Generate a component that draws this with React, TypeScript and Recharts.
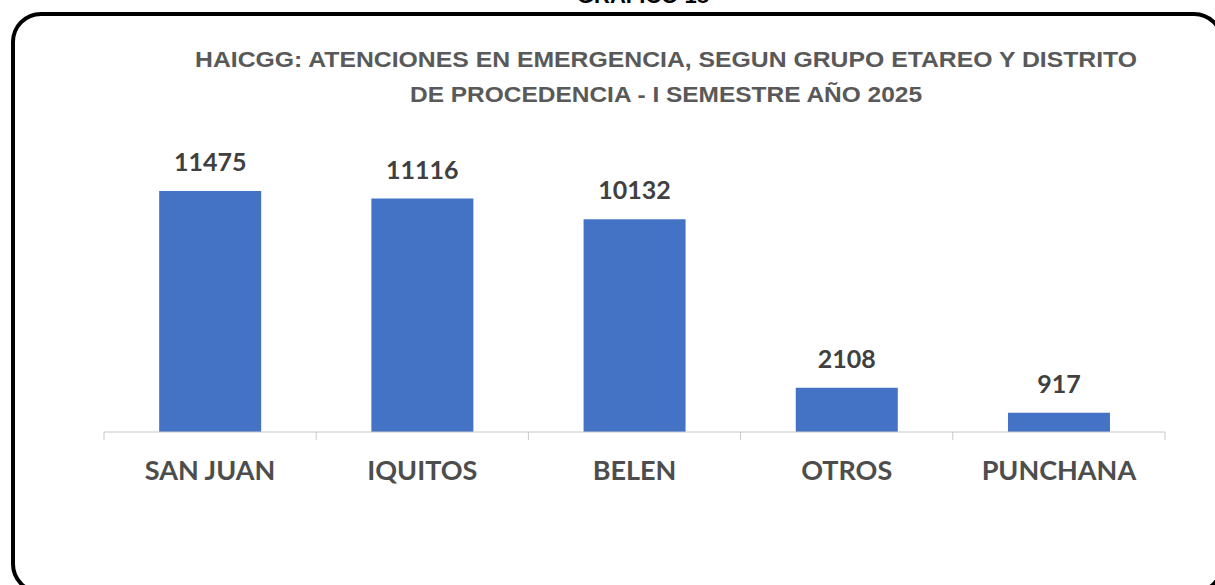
import React from "react";
import { BarChart, Bar, XAxis, YAxis, LabelList } from "recharts";

const distritos = ["SAN JUAN", "IQUITOS", "BELEN", "OTROS", "PUNCHANA"];
const atenciones = [11475, 11116, 10132, 2108, 917];

const data = distritos.map((name, i) => ({ name, value: atenciones[i] }));

const BAND = (1215 - 104 - 50) / distritos.length;

const CategoryTick = (props: any) => {
  const { x, y, payload, index } = props;
  const last = index === distritos.length - 1;
  return (
    <g>
      <line x1={x - BAND / 2} y1={y} x2={x - BAND / 2} y2={y + 8} stroke="#c8c8c8" />
      {last && <line x1={x + BAND / 2} y1={y} x2={x + BAND / 2} y2={y + 8} stroke="#c8c8c8" />}
      <text
        x={x}
        y={y + 48}
        textAnchor="middle"
        fontFamily="Lato"
        fontWeight="bold"
        fontSize={27}
        fill="#4d4d4d"
      >
        {payload.value}
      </text>
    </g>
  );
};

export default function App() {
  return (
    <div style={{ position: "absolute", left: 0, top: 0, width: 1215, height: 585, background: "#fff", overflow: "hidden" }}>
      <svg width={1215} height={585} style={{ position: "absolute", left: 0, top: 0 }}>
        <text x={643} y={3} textAnchor="middle" fontFamily="Liberation Sans" fontWeight="bold" fontSize={22} fill="#000">
          GRAFICO 18
        </text>
        <rect x={13} y={14} width={1209} height={578} rx={28} ry={28} fill="none" stroke="#000" strokeWidth={4} />
        <g fontFamily="Liberation Sans" fontWeight="bold" fontSize={21.5} fill="#595959" textAnchor="middle">
          <text x={666} y={67} textLength={942} lengthAdjust="spacingAndGlyphs">
            HAICGG: ATENCIONES EN  EMERGENCIA, SEGUN GRUPO ETAREO Y DISTRITO
          </text>
          <text x={666} y={102} textLength={512} lengthAdjust="spacingAndGlyphs">
            DE PROCEDENCIA - I SEMESTRE AÑO 2025
          </text>
        </g>
      </svg>
      <div style={{ position: "absolute", left: 0, top: 0 }}>
        <BarChart
          width={1215}
          height={585}
          data={data}
          margin={{ top: 159, right: 50, bottom: 93, left: 104 }}
          barCategoryGap="26%"
        >
          <XAxis
            dataKey="name"
            axisLine={{ stroke: "#c8c8c8" }}
            tickLine={false}
            tickSize={0}
            tickMargin={0}
            height={60}
            interval={0}
            tick={<CategoryTick />}
          />
          <YAxis hide domain={[0, 13000]} />
          <Bar dataKey="value" fill="#4472C4" isAnimationActive={false}>
            <LabelList
              dataKey="value"
              position="top"
              offset={20}
              fontFamily="Lato"
              fontWeight="bold"
              fontSize={25}
              fill="#404040"
            />
          </Bar>
        </BarChart>
      </div>
    </div>
  );
}
